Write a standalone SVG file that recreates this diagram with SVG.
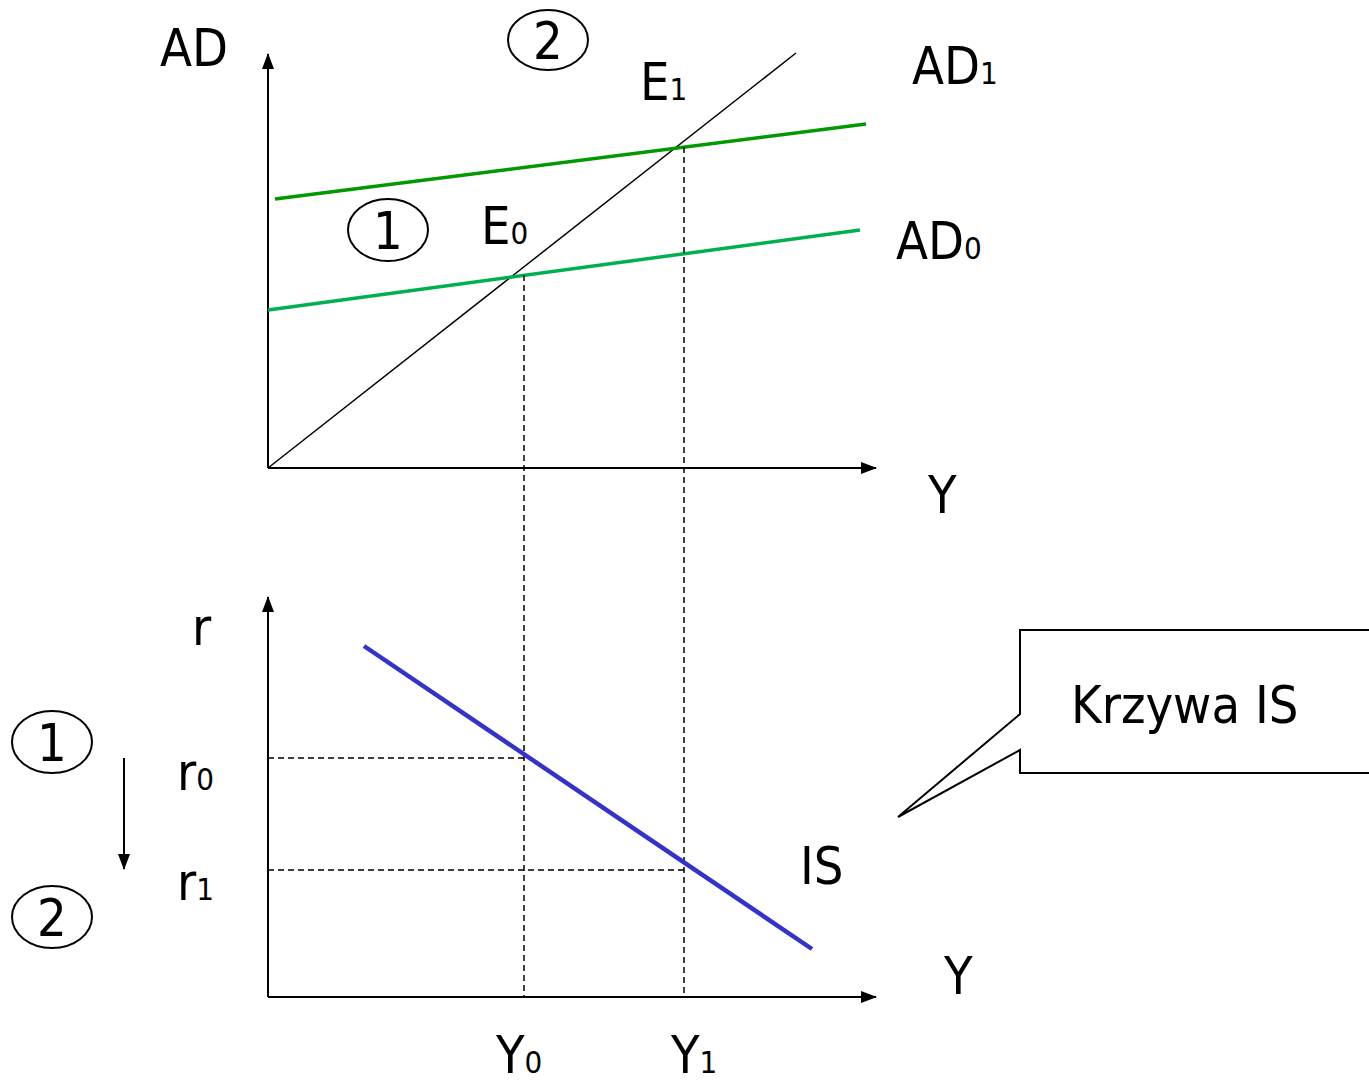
<svg xmlns="http://www.w3.org/2000/svg" width="1369" height="1081" viewBox="0 0 1369 1081">
<style>
text{font-family:"DejaVu Sans Condensed","DejaVu Sans","Liberation Sans",sans-serif;font-stretch:condensed;font-size:52px;fill:#000}
.s{font-size:31px}
.ax{stroke:#000;stroke-width:2;fill:none}
.dash{stroke:#000;stroke-width:1.5;stroke-dasharray:6,4;fill:none}
.el{fill:none;stroke:#000;stroke-width:2}
</style>
<defs>
<marker id="ah2" viewBox="0 0 16 12" refX="15" refY="6" markerWidth="16" markerHeight="12" markerUnits="userSpaceOnUse" orient="auto"><path d="M0,0 L16,6 L0,12 z" fill="#000"/></marker>
</defs>
<g id="connectors">
<line class="ax" x1="268" y1="468" x2="268" y2="54" marker-end="url(#ah2)"/>
<line class="ax" x1="268" y1="468" x2="876" y2="468" marker-end="url(#ah2)"/>
<line x1="268" y1="468" x2="796" y2="53" stroke="#000" stroke-width="1.5"/>
<line x1="275" y1="199" x2="866" y2="124" stroke="#009900" stroke-width="3.5"/>
<line x1="268" y1="310" x2="860" y2="230" stroke="#00b050" stroke-width="3.5"/>
<line class="dash" x1="524" y1="275" x2="524" y2="997"/>
<line class="dash" x1="684" y1="147" x2="684" y2="997"/>
<line class="ax" x1="268" y1="997" x2="268" y2="597" marker-end="url(#ah2)"/>
<line class="ax" x1="268" y1="997" x2="876" y2="997" marker-end="url(#ah2)"/>
<line x1="364" y1="646" x2="812" y2="949" stroke="#3333cc" stroke-width="4.5"/>
<line class="dash" x1="268" y1="758" x2="524" y2="758"/>
<line class="dash" x1="268" y1="870" x2="684" y2="870"/>
<line class="ax" x1="124" y1="758" x2="124" y2="869" marker-end="url(#ah2)"/>
</g>
<g id="m2top"><ellipse class="el" cx="548" cy="40" rx="40" ry="30"/><text x="548" y="59" text-anchor="middle">2</text></g>
<g id="m1top"><ellipse class="el" cx="388" cy="230" rx="40" ry="31"/><text x="388" y="249" text-anchor="middle">1</text></g>
<g id="m1left"><ellipse class="el" cx="52" cy="742" rx="40" ry="31"/><text x="52" y="761" text-anchor="middle">1</text></g>
<g id="m2left"><ellipse class="el" cx="52" cy="917" rx="40" ry="31"/><text x="52" y="936" text-anchor="middle">2</text></g>
<g id="labels">
<text x="160" y="66">AD</text>
<text x="912" y="84">AD<tspan class="s">1</tspan></text>
<text x="896" y="259">AD<tspan class="s">0</tspan></text>
<text x="640" y="100">E<tspan class="s">1</tspan></text>
<text x="481" y="244">E<tspan class="s">0</tspan></text>
<text x="928" y="513">Y</text>
<text x="192" y="645">r</text>
<text x="177" y="790">r<tspan class="s">0</tspan></text>
<text x="177" y="900">r<tspan class="s">1</tspan></text>
<text x="800" y="884">IS</text>
<text x="944" y="994">Y</text>
<text x="496" y="1073">Y<tspan class="s">0</tspan></text>
<text x="671" y="1073">Y<tspan class="s">1</tspan></text>
</g>
<g id="callout">
<path d="M1369,630 L1020,630 L1020,714 L898,817 L1020,750 L1020,773 L1369,773" fill="#fff" stroke="#000" stroke-width="2"/>
<text x="1071" y="723">Krzywa IS</text>
</g>
</svg>
